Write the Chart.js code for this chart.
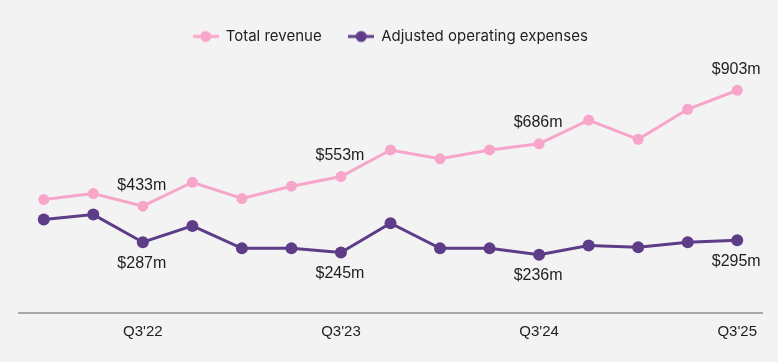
<!DOCTYPE html>
<html>
<head>
<meta charset="utf-8">
<script src="https://cdn.jsdelivr.net/npm/chart.js@4"></script>
<style>
  html, body { margin: 0; padding: 0; background: #f3f3f3; }
  #wrap { width: 778px; height: 362px; position: relative; }
</style>
</head>
<body>
<div id="wrap"><canvas id="c" width="778" height="362"></canvas></div>
<script>
const quarters = ["Q1'22","Q2'22","Q3'22","Q4'22","Q1'23","Q2'23","Q3'23","Q4'23","Q1'24","Q2'24","Q3'24","Q4'24","Q1'25","Q2'25","Q3'25"];
const totalRevenue = [460, 484, 433, 530, 464, 514, 553, 661, 625, 661, 686, 782, 704, 826, 903];
const adjustedOpex = [379, 399, 287, 353, 262, 262, 245, 364, 262, 262, 236, 274, 267, 287, 295];
const labelledIndices = [2, 6, 10, 14];

const PINK = '#f7a6ca';
const PURPLE = '#5d3c88';

function legendIcon(color) {
  const cv = document.createElement('canvas');
  cv.width = 26; cv.height = 14;
  const g = cv.getContext('2d');
  g.strokeStyle = color; g.lineWidth = 3;
  g.beginPath(); g.moveTo(0, 7); g.lineTo(26, 7); g.stroke();
  g.fillStyle = color;
  g.beginPath(); g.arc(13, 7, 5.5, 0, Math.PI * 2); g.fill();
  return cv;
}

const valueLabels = {
  id: 'valueLabels',
  afterDatasetsDraw(chart) {
    const ctx = chart.ctx;
    ctx.save();
    ctx.font = '16px "Liberation Sans", Arial, sans-serif';
    ctx.fillStyle = '#1e1e1e';
    ctx.textAlign = 'center';
    ctx.textBaseline = 'middle';
    chart.data.datasets.forEach((ds, di) => {
      const meta = chart.getDatasetMeta(di);
      labelledIndices.forEach(i => {
        const pt = meta.data[i];
        const dy = di === 0 ? -21 : 21;
        ctx.fillText('$' + ds.data[i] + 'm', pt.x - 1, pt.y + dy);
      });
    });
    ctx.restore();
  }
};

new Chart(document.getElementById('c'), {
  type: 'line',
  data: {
    labels: quarters,
    datasets: [
      {
        label: 'Total revenue',
        data: totalRevenue,
        borderColor: PINK,
        backgroundColor: PINK,
        pointBackgroundColor: PINK,
        pointBorderWidth: 0,
        borderWidth: 3,
        pointRadius: 5.5,
        tension: 0,
        pointStyle: 'circle'
      },
      {
        label: 'Adjusted operating expenses',
        data: adjustedOpex,
        borderColor: PURPLE,
        backgroundColor: PURPLE,
        pointBackgroundColor: PURPLE,
        pointBorderWidth: 0,
        borderWidth: 3,
        pointRadius: 6,
        tension: 0,
        pointStyle: 'circle'
      }
    ]
  },
  options: {
    responsive: false,
    animation: false,
    layout: { padding: { top: 2, left: 19, right: 16, bottom: 11 } },
    plugins: {
      tooltip: { enabled: false },
      legend: {
        display: true,
        position: 'top',
        labels: {
          usePointStyle: true,
          pointStyleWidth: 25,
          boxHeight: 14,
          padding: 27,
          color: '#1e1e1e',
          font: { family: 'Inter, "Noto Sans", sans-serif', size: 15 },
          generateLabels(chart) {
            return chart.data.datasets.map((ds, i) => ({
              text: ds.label,
              fontColor: '#1e1e1e',
              pointStyle: legendIcon(ds.borderColor),
              fillStyle: ds.borderColor,
              strokeStyle: ds.borderColor,
              lineWidth: 0,
              hidden: false,
              datasetIndex: i
            }));
          }
        }
      }
    },
    scales: {
      x: {
        offset: true,
        grid: { display: false, drawTicks: false },
        border: { display: true, color: '#a8a8a8', width: 2 },
        ticks: {
          autoSkip: false,
          maxRotation: 0,
          padding: 10,
          color: '#1e1e1e',
          font: { family: '"Liberation Sans", Arial, sans-serif', size: 15 },
          callback(value, index) {
            const l = quarters[index];
            return l.startsWith("Q3") ? l : '';
          }
        }
      },
      y: {
        display: false,
        min: 0,
        max: 1050
      }
    }
  },
  plugins: [valueLabels]
});
</script>
</body>
</html>
